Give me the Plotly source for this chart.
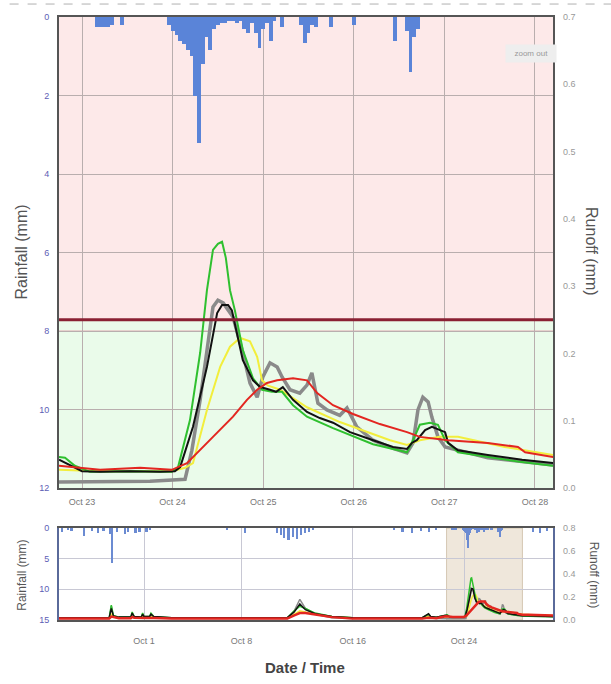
import pandas as pd
import plotly.graph_objects as go

# ---------------- data ----------------
BASE = pd.Timestamp("2013-10-23 00:00")      # main chart: hours from this
NAV_BASE = pd.Timestamp("2013-10-01 00:00")  # navigator extras: days from this

RAIN_HOURS = [4, 5, 6, 7, 8, 10.5, 23, 24, 25, 26, 27, 28, 29, 30, 31, 32, 33, 34, 35, 36,
              37, 38, 39, 40, 41, 42, 43, 44, 45, 46, 47, 48, 49, 50, 51, 53, 58, 59, 60, 61,
              62, 66, 72, 83, 86, 87, 88, 89]
RAIN_MM = [0.25, 0.25, 0.25, 0.25, 0.2, 0.2, 0.2, 0.35, 0.45, 0.6, 0.7, 0.85, 1.0, 2.0, 3.2, 1.2,
           0.5, 0.85, 0.3, 0.2, 0.15, 0.15, 0.1, 0.1, 0.15, 0.1, 0.3, 0.4, 0.15, 0.4, 0.8, 0.3,
           0.15, 0.6, 0.1, 0.25, 0.2, 0.65, 0.4, 0.2, 0.25, 0.25, 0.2, 0.6, 0.35, 1.4, 0.5, 0.3]

GREEN_H = [-6.1, -4.5, -1.9, 2.1, 12.7, 23.8, 25.4, 28.6, 31.3, 33.1, 34.7, 36.0, 37.1, 38.1,
           39.2, 40.5, 42.6, 45.3, 47.7, 50.3, 53.0, 55.9, 59.6, 66.5, 77.1, 86.1, 87.7, 89.5,
           92.2, 94.3, 96.2, 99.6, 116, 124.8]
GREEN_V = [0.046, 0.045, 0.033, 0.024, 0.025, 0.024, 0.030, 0.101, 0.201, 0.294, 0.354, 0.363,
           0.366, 0.342, 0.294, 0.264, 0.205, 0.163, 0.146, 0.143, 0.143, 0.123, 0.106, 0.089,
           0.065, 0.053, 0.071, 0.094, 0.097, 0.094, 0.071, 0.053, 0.039, 0.033]

BLACK_H = [-6.1, -3.2, 0, 4.8, 12.7, 20.7, 24.6, 26, 29.4, 33.1, 35.8, 37.1, 38.7, 39.7, 41.1,
           42.6, 45.3, 47.2, 49.8, 51.4, 53.2, 55.9, 59.6, 63.0, 66.5, 71.0, 77.1, 82.4, 86.1,
           87.4, 88.7, 90.9, 92.7, 94.8, 96.2, 97.0, 99.6, 107.5, 116.6, 124.8]
BLACK_V = [0.042, 0.034, 0.025, 0.024, 0.025, 0.024, 0.025, 0.031, 0.091, 0.180, 0.260, 0.272,
           0.272, 0.264, 0.230, 0.190, 0.160, 0.150, 0.146, 0.143, 0.150, 0.131, 0.113, 0.104,
           0.097, 0.083, 0.071, 0.061, 0.058, 0.067, 0.071, 0.086, 0.091, 0.086, 0.083, 0.067,
           0.056, 0.049, 0.042, 0.037]

GRAY_H = [-6.1, 4.8, 18, 27.3, 29.1, 31.3, 33.1, 34.7, 36.0, 37.4, 40.0, 42.6, 44.5, 46.4, 47.9,
          49.8, 51.7, 53.0, 55.1, 57.7, 59.6, 60.9, 62.5, 64.9, 68.3, 70.2, 72.8, 77.1, 82.4,
          86.1, 87.7, 89.0, 90.3, 91.7, 92.7, 94.3, 96.2, 107.5, 124.8]
GRAY_V = [0.009, 0.010, 0.010, 0.013, 0.056, 0.131, 0.205, 0.269, 0.279, 0.275, 0.254, 0.201,
          0.156, 0.135, 0.165, 0.186, 0.180, 0.165, 0.146, 0.141, 0.153, 0.171, 0.126, 0.116,
          0.108, 0.119, 0.091, 0.071, 0.059, 0.052, 0.067, 0.116, 0.135, 0.128, 0.105, 0.076,
          0.061, 0.045, 0.034]

YELLOW_H = [-6.1, 4.8, 23.8, 27.3, 29.4, 33.1, 36.6, 39.2, 41.9, 44.5, 46.4, 47.7, 49.3, 52.5,
            59.6, 68.3, 81.6, 86.1, 89.5, 94.8, 99.6, 112, 124.8]
YELLOW_V = [0.027, 0.025, 0.025, 0.030, 0.037, 0.116, 0.180, 0.210, 0.223, 0.218, 0.195, 0.160,
            0.152, 0.146, 0.120, 0.098, 0.071, 0.064, 0.071, 0.076, 0.076, 0.061, 0.049]

RED_H = [-6.1, 4.8, 15.4, 23.8, 27.8, 31.3, 34.7, 40.0, 43.7, 46.4, 49.0, 51.7, 55.9, 59.6, 62.3,
         66.5, 71.8, 78.9, 86.1, 89.5, 97.0, 107.5, 115.5, 117.4, 124.8]
RED_V = [0.033, 0.027, 0.030, 0.027, 0.037, 0.056, 0.076, 0.106, 0.131, 0.146, 0.156, 0.160,
         0.163, 0.160, 0.141, 0.123, 0.110, 0.095, 0.083, 0.076, 0.071, 0.067, 0.061, 0.053, 0.046]

THRESHOLD = 0.25

# navigator: extra (days from Oct 1) before and after the main window
NAV_PRE_DAYS = [-6.2, -2.5, -2.35, -2.2, -1.8, -0.95, -0.85, -0.7, -0.2, -0.1,
                0.0, 0.4, 0.5, 0.7, 2.0, 10.3, 10.8, 11.2, 11.6, 12.3,
                13.5, 15.0, 20.0, 20.45, 20.6, 21.0, 21.6]
GREEN_PRE = [0.02, 0.02, 0.13, 0.04, 0.025, 0.025, 0.07, 0.03, 0.025, 0.06,
             0.03, 0.03, 0.06, 0.03, 0.02, 0.02, 0.08, 0.12, 0.1, 0.06,
             0.03, 0.02, 0.02, 0.05, 0.03, 0.025, 0.04]
GRAY_PRE = [0.012, 0.012, 0.12, 0.03, 0.015, 0.015, 0.05, 0.02, 0.015, 0.04,
            0.02, 0.02, 0.04, 0.02, 0.012, 0.012, 0.08, 0.18, 0.1, 0.05,
            0.02, 0.012, 0.012, 0.04, 0.02, 0.012, 0.01]
BLACK_PRE = [0.02, 0.02, 0.1, 0.035, 0.025, 0.025, 0.06, 0.03, 0.025, 0.05,
             0.03, 0.03, 0.05, 0.03, 0.02, 0.02, 0.07, 0.14, 0.09, 0.055,
             0.03, 0.02, 0.02, 0.055, 0.03, 0.025, 0.04]
YELLOW_PRE = [0.02, 0.02, 0.05, 0.03, 0.02, 0.02, 0.03, 0.02, 0.02, 0.03,
              0.02, 0.02, 0.03, 0.02, 0.02, 0.02, 0.05, 0.08, 0.07, 0.05,
              0.03, 0.02, 0.02, 0.03, 0.025, 0.02, 0.027]
RED_PRE = [0.012, 0.012, 0.03, 0.025, 0.015, 0.015, 0.025, 0.02, 0.015, 0.02,
           0.018, 0.018, 0.02, 0.018, 0.012, 0.012, 0.04, 0.06, 0.06, 0.045,
           0.025, 0.012, 0.012, 0.02, 0.02, 0.015, 0.03]

NAV_POST_DAYS = [27.6, 28.5, 29.45]
GREEN_POST = [0.032, 0.03, 0.028]
GRAY_POST = [0.033, 0.03, 0.028]
BLACK_POST = [0.036, 0.033, 0.03]
YELLOW_POST = [0.047, 0.042, 0.038]
RED_POST = [0.045, 0.042, 0.04]

NAV_RAIN_PRE_D = [-5.9, -5.45, -5.2, -4.3, -3.7, -3.3, -2.9, -2.45, -2.3, -1.95, -1.35, -1.15,
                  -0.6, -0.3, 0.2, 0.45, 6.0, 7.25, 9.55, 9.85, 10.1, 10.4, 10.7, 11.0, 11.3,
                  11.6, 11.9, 12.15, 18.0, 18.6, 19.3, 19.9, 20.5, 21.0]
NAV_RAIN_PRE_MM = [0.6, 0.4, 0.5, 1.3, 0.5, 0.8, 0.5, 1.0, 5.7, 0.7, 1.0, 0.6, 0.8, 0.6, 0.7,
                   0.4, 0.3, 0.8, 0.8, 1.2, 1.6, 2.0, 1.5, 1.8, 1.2, 0.8, 0.6, 0.4, 0.4, 0.6,
                   0.8, 0.5, 0.7, 0.4]
NAV_RAIN_POST_D = [27.97, 28.5, 28.97]
NAV_RAIN_POST_MM = [0.6, 0.8, 0.5]

MAIN_TICKS = ["2013-10-23", "2013-10-24", "2013-10-25", "2013-10-26", "2013-10-27", "2013-10-28"]
MAIN_TICKTEXT = ["Oct 23", "Oct 24", "Oct 25", "Oct 26", "Oct 27", "Oct 28"]
NAV_TICKS = ["2013-10-01", "2013-10-08", "2013-10-16", "2013-10-24"]
NAV_TICKTEXT = ["Oct 1", "Oct 8", "Oct 16", "Oct 24"]

MAIN_RANGE = ["2013-10-22 17:54", "2013-10-28 04:47"]
NAV_RANGE = ["2013-09-24 21:23", "2013-10-30 09:31"]


# ---------------- helpers ----------------
def hrs(h):
    return [BASE + pd.Timedelta(hours=v) for v in h]


def days(d):
    return [NAV_BASE + pd.Timedelta(days=v) for v in d]


FONT = "Liberation Sans, Arial, sans-serif"
series = [
    ("gray", GRAY_H, GRAY_V, GRAY_PRE, GRAY_POST, "#8a8a8a", 3.5),
    ("yellow", YELLOW_H, YELLOW_V, YELLOW_PRE, YELLOW_POST, "#f2ee3c", 2),
    ("green", GREEN_H, GREEN_V, GREEN_PRE, GREEN_POST, "#2fc02f", 2),
    ("black", BLACK_H, BLACK_V, BLACK_PRE, BLACK_POST, "#111111", 2),
    ("red", RED_H, RED_V, RED_PRE, RED_POST, "#e32620", 2),
]

fig = go.Figure()

# main rainfall bars
fig.add_trace(go.Bar(x=hrs(RAIN_HOURS), y=RAIN_MM, width=3600000, marker_color="#5a84d8",
                     marker_line_width=0, xaxis="x", yaxis="y", showlegend=False))
# main runoff lines
for name, h, v, pre, post, col, w in series:
    fig.add_trace(go.Scatter(x=hrs(h), y=v, mode="lines", line=dict(color=col, width=w),
                             xaxis="x", yaxis="y2", showlegend=False, name=name))

# navigator rainfall
nav_rain_x = days(NAV_RAIN_PRE_D) + hrs(RAIN_HOURS) + days(NAV_RAIN_POST_D)
nav_rain_y = NAV_RAIN_PRE_MM + RAIN_MM + NAV_RAIN_POST_MM
fig.add_trace(go.Bar(x=nav_rain_x, y=nav_rain_y, width=3 * 3600000, marker_color="#6b8bd2",
                     marker_line_width=0, xaxis="x2", yaxis="y3", showlegend=False))
for name, h, v, pre, post, col, w in series:
    fig.add_trace(go.Scatter(x=days(NAV_PRE_DAYS) + hrs(h) + days(NAV_POST_DAYS),
                             y=pre + v + post, mode="lines",
                             line=dict(color=col, width=2.5 if name == "red" else 1.5),
                             xaxis="x2", yaxis="y4", showlegend=False, name=name))

MAIN_BOTTOM = 0.2189
NAV_TOP = 0.1526
GRID = "#b9aeae"

fig.update_layout(
    width=611, height=684,
    margin=dict(l=59, r=58, t=17, b=64),
    paper_bgcolor="white", plot_bgcolor="rgba(0,0,0,0)",
    barmode="overlay", bargap=0,
    font=dict(family=FONT, size=9, color="#777"),
    xaxis=dict(domain=[0, 1], anchor="y", type="date", range=MAIN_RANGE,
               tickvals=MAIN_TICKS, ticktext=MAIN_TICKTEXT, showgrid=True, gridcolor=GRID,
               showline=True, linecolor="#555", linewidth=2, mirror=True, ticks="",
               ticklabelstandoff=4, tickfont=dict(size=9, color="#777"), zeroline=False),
    yaxis=dict(domain=[MAIN_BOTTOM, 1], anchor="x", range=[12, 0], tickvals=[0, 2, 4, 6, 8, 10, 12],
               showgrid=True, gridcolor=GRID, showline=True, linecolor="#555", linewidth=2,
               mirror=True, ticks="", ticklabelstandoff=6, zeroline=False,
               tickfont=dict(size=9, color="#5d5db5")),
    yaxis2=dict(overlaying="y", side="right", anchor="x", range=[0, 0.7], dtick=0.1,
                tickformat=".1f", showgrid=False, zeroline=False, ticks="",
                ticklabelstandoff=9, tickfont=dict(size=9, color="#999")),
    xaxis2=dict(domain=[0, 1], anchor="y3", type="date", range=NAV_RANGE,
                tickvals=NAV_TICKS, ticktext=NAV_TICKTEXT, showgrid=True, gridcolor="#c8c8d4",
                showline=True, linecolor="#555", linewidth=2, mirror=True, ticks="",
                ticklabelstandoff=11, tickfont=dict(size=9, color="#777"), zeroline=False),
    yaxis3=dict(domain=[0, NAV_TOP], anchor="x2", range=[15, 0], tickvals=[0, 5, 10, 15],
                showgrid=True, gridcolor="#c8c8d4", showline=True, linecolor="#5a6a9a",
                linewidth=2, mirror=True, ticks="", ticklabelstandoff=6, zeroline=False,
                tickfont=dict(size=9, color="#5d5db5")),
    yaxis4=dict(overlaying="y3", side="right", anchor="x2", range=[0, 0.8], dtick=0.2,
                tickformat=".1f", showgrid=False, zeroline=False, ticks="",
                ticklabelstandoff=9, tickfont=dict(size=9, color="#999")),
)

shapes = [
    # pink band (above threshold) and green band (below)
    dict(type="rect", xref="paper", x0=0, x1=1, yref="y2", y0=THRESHOLD, y1=0.7,
         fillcolor="#fde9e9", line_width=0, layer="below"),
    dict(type="rect", xref="paper", x0=0, x1=1, yref="y2", y0=0, y1=THRESHOLD,
         fillcolor="#eafbea", line_width=0, layer="below"),
    dict(type="line", xref="paper", x0=0, x1=1, yref="y", y0=8, y1=8,
         line=dict(color="#e3a9b1", width=1), layer="below"),
    dict(type="line", xref="paper", x0=0, x1=1, yref="y2", y0=THRESHOLD, y1=THRESHOLD,
         line=dict(color="#8a2133", width=3), layer="above"),
    # navigator selection
    dict(type="rect", xref="x2", x0=MAIN_RANGE[0], x1=MAIN_RANGE[1], yref="paper", y0=0,
         y1=NAV_TOP, fillcolor="rgba(214,192,160,0.38)",
         line=dict(color="rgba(190,170,140,0.6)", width=1), layer="below"),
    # dashed line at the very top
    dict(type="line", xref="paper", x0=-0.1, x1=1.12, yref="paper", y0=1.0215, y1=1.0215,
         line=dict(color="#b0b0b0", width=1, dash="dash")),
]
fig.update_layout(shapes=shapes)

annotations = [
    dict(text="Rainfall (mm)", xref="paper", yref="paper", x=-0.075, y=0.611, textangle=-90,
         xanchor="center", yanchor="middle", showarrow=False, font=dict(size=16, color="#555")),
    dict(text="Runoff (mm)", xref="paper", yref="paper", x=1.078, y=0.611, textangle=90,
         xanchor="center", yanchor="middle", showarrow=False, font=dict(size=16, color="#555")),
    dict(text="Rainfall (mm)", xref="paper", yref="paper", x=-0.075, y=0.075, textangle=-90,
         xanchor="center", yanchor="middle", showarrow=False, font=dict(size=12, color="#555")),
    dict(text="Runoff (mm)", xref="paper", yref="paper", x=1.083, y=0.075, textangle=90,
         xanchor="center", yanchor="middle", showarrow=False, font=dict(size=12, color="#555")),
    dict(text="<b>Date / Time</b>", xref="paper", yref="paper", x=0.498, y=-0.078,
         xanchor="center", yanchor="middle", showarrow=False, font=dict(size=15, color="#444")),
    dict(text="  zoom out  ", xref="paper", yref="paper", x=0.955, y=0.94, showarrow=False,
         xanchor="center", yanchor="middle", bgcolor="#eeeeee", borderpad=4,
         font=dict(size=8, color="#999")),
]
fig.update_layout(annotations=annotations)

fig.write_html("out.html", config={"displayModeBar": False})
